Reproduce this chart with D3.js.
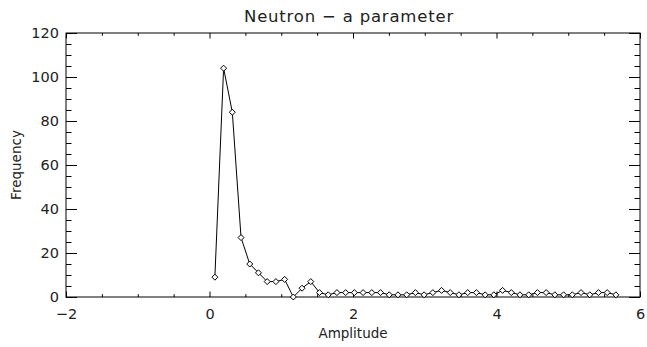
<!DOCTYPE html>
<html>
<head>
<meta charset="utf-8">
<script src="https://cdn.jsdelivr.net/npm/d3@7"></script>
<style>
  html, body { margin: 0; padding: 0; background: #fff; }
  svg text { font-family: "DejaVu Sans", "Liberation Sans", sans-serif; fill: #222; }
</style>
</head>
<body>
<svg id="chart" width="647" height="347"></svg>
<script>
// ---- data ----
const binStart = 0.075;
const binWidth = 0.1215;
const frequency = [
  9, 104, 84, 27, 15, 11, 7, 7, 8, 0,
  4, 7, 2, 1, 2, 2, 2, 2, 2, 2,
  1, 1, 1, 2, 1, 2, 3, 2, 1, 2,
  2, 1, 1, 3, 2, 1, 1, 2, 2, 1,
  1, 1, 2, 1, 2, 2, 1
];
const amplitude = frequency.map((_, i) => binStart + binWidth * i);
const xTicks = [-2, 0, 2, 4, 6];
const yTicks = [0, 20, 40, 60, 80, 100, 120];
const titleText = "Neutron \u2212 a parameter";
const xLabel = "Amplitude";
const yLabel = "Frequency";

// ---- layout ----
const svg = d3.select("#chart");
const L = 66, R = 640, T = 33, B = 297;
const x = d3.scaleLinear().domain([-2, 6]).range([L, R]);
const y = d3.scaleLinear().domain([0, 120]).range([B, T]);

const xMinor = d3.range(-2, 6.001, 0.5).filter(v => !xTicks.includes(v));
const yMinor = d3.range(0, 120.001, 5).filter(v => !yTicks.includes(v));
const xMaj = 5.5, xMin = 2.8, yMaj = 11, yMin = 5.5;

// bottom axis
svg.append("g").attr("transform", `translate(0,${B})`)
  .call(d3.axisBottom(x).tickValues(xTicks).tickSizeInner(-xMaj).tickSizeOuter(0).tickPadding(12)
    .tickFormat(d => d < 0 ? "\u2212" + Math.abs(d) : d))
  .call(g => g.select(".domain").remove())
  .call(g => g.selectAll("text").attr("font-size", 14.5).attr("dy", "0.71em"));
svg.append("g").attr("transform", `translate(0,${B})`)
  .call(d3.axisBottom(x).tickValues(xMinor).tickSizeInner(-xMin).tickSizeOuter(0).tickFormat(""))
  .call(g => g.select(".domain").remove());
// top axis
svg.append("g").attr("transform", `translate(0,${T})`)
  .call(d3.axisTop(x).tickValues(xTicks).tickSizeInner(-xMaj).tickSizeOuter(0).tickFormat(""))
  .call(g => g.select(".domain").remove());
svg.append("g").attr("transform", `translate(0,${T})`)
  .call(d3.axisTop(x).tickValues(xMinor).tickSizeInner(-xMin).tickSizeOuter(0).tickFormat(""))
  .call(g => g.select(".domain").remove());
// left axis
svg.append("g").attr("transform", `translate(${L},0)`)
  .call(d3.axisLeft(y).tickValues(yTicks).tickSizeInner(-yMaj).tickSizeOuter(0).tickPadding(7))
  .call(g => g.select(".domain").remove())
  .call(g => g.selectAll("text").attr("font-size", 14.5));
svg.append("g").attr("transform", `translate(${L},0)`)
  .call(d3.axisLeft(y).tickValues(yMinor).tickSizeInner(-yMin).tickSizeOuter(0).tickFormat(""))
  .call(g => g.select(".domain").remove());
// right axis
svg.append("g").attr("transform", `translate(${R},0)`)
  .call(d3.axisRight(y).tickValues(yTicks).tickSizeInner(-yMaj).tickSizeOuter(0).tickFormat(""))
  .call(g => g.select(".domain").remove());
svg.append("g").attr("transform", `translate(${R},0)`)
  .call(d3.axisRight(y).tickValues(yMinor).tickSizeInner(-yMin).tickSizeOuter(0).tickFormat(""))
  .call(g => g.select(".domain").remove());

svg.selectAll(".tick line").attr("stroke", "#000");

// frame
svg.append("rect").attr("x", L).attr("y", T).attr("width", R - L).attr("height", B - T)
  .attr("fill", "none").attr("stroke", "#000").attr("stroke-width", 1);

// line
const pts = amplitude.map((a, i) => [a, frequency[i]]);
svg.append("path").datum(pts)
  .attr("fill", "none").attr("stroke", "#000").attr("stroke-width", 1)
  .attr("d", d3.line().x(d => x(d[0])).y(d => y(d[1])));

// diamond markers
const s = 3;
svg.append("g").selectAll("path").data(pts).join("path")
  .attr("d", d => {
    const cx = x(d[0]), cy = y(d[1]);
    return `M${cx},${cy - s}L${cx + s},${cy}L${cx},${cy + s}L${cx - s},${cy}Z`;
  })
  .attr("fill", "#fff").attr("stroke", "#000").attr("stroke-width", 1);

// titles
svg.append("text").attr("x", (L + R) / 2 - 4).attr("y", 22).attr("text-anchor", "middle")
  .attr("font-size", 16.5).attr("letter-spacing", "0.8px").text(titleText);
svg.append("text").attr("x", (L + R) / 2).attr("y", 338).attr("text-anchor", "middle")
  .attr("font-size", 13.5).text(xLabel);
svg.append("text").attr("transform", `translate(21,${(T + B) / 2}) rotate(-90)`)
  .attr("text-anchor", "middle").attr("font-size", 13.5).text(yLabel);
</script>
</body>
</html>
